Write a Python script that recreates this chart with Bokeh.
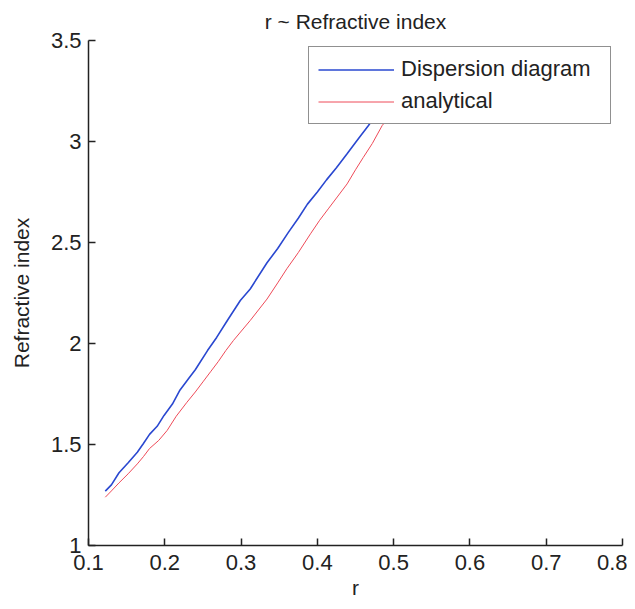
from bokeh.plotting import figure
from bokeh.models import Range1d, FixedTicker, Legend, LegendItem
from bokeh.embed import file_html
from bokeh.resources import INLINE

# Data
r_disp = [0.122, 0.130, 0.140, 0.152, 0.164, 0.172, 0.180, 0.190, 0.199, 0.210,
          0.220, 0.232, 0.240, 0.256, 0.268, 0.282, 0.299, 0.312, 0.334, 0.348,
          0.362, 0.375, 0.387, 0.400, 0.412, 0.425, 0.439, 0.452, 0.467, 0.480,
          0.495, 0.510]
n_disp = [1.269, 1.300, 1.360, 1.410, 1.462, 1.505, 1.550, 1.590, 1.644, 1.700,
          1.770, 1.830, 1.870, 1.965, 2.030, 2.114, 2.213, 2.270, 2.400, 2.470,
          2.550, 2.620, 2.690, 2.750, 2.810, 2.870, 2.939, 3.005, 3.079, 3.150,
          3.220, 3.300]

r_anal = [0.122, 0.130, 0.140, 0.152, 0.164, 0.172, 0.180, 0.192, 0.203, 0.215,
          0.229, 0.240, 0.250, 0.260, 0.270, 0.280, 0.290, 0.312, 0.334, 0.348,
          0.360, 0.375, 0.391, 0.403, 0.415, 0.427, 0.439, 0.450, 0.460, 0.472,
          0.485, 0.498, 0.510]
n_anal = [1.239, 1.270, 1.310, 1.355, 1.404, 1.440, 1.480, 1.520, 1.569, 1.640,
          1.709, 1.760, 1.810, 1.860, 1.910, 1.965, 2.015, 2.114, 2.220, 2.300,
          2.370, 2.450, 2.543, 2.610, 2.670, 2.730, 2.790, 2.860, 2.920, 2.990,
          3.079, 3.140, 3.200]

x_ticks = [0.1, 0.2, 0.3, 0.4, 0.5, 0.6, 0.7, 0.8]
y_ticks = [1, 1.5, 2, 2.5, 3, 3.5]
y_tick_labels = ["1", "1.5", "2", "2.5", "3", "3.5"]

FONT = "Liberation Sans"
TXT = "#222222"

p = figure(width=627, height=601, output_backend="svg", toolbar_location=None,
           x_range=Range1d(0.1, 0.8), y_range=Range1d(1, 3.5),
           title="r ~ Refractive index",
           min_border_left=88, min_border_right=5,
           min_border_top=40, min_border_bottom=56)

p.title.align = "center"
p.title.text_font = FONT
p.title.text_font_size = "21px"
p.title.text_font_style = "normal"
p.title.text_color = TXT
p.title.standoff = 15

p.outline_line_color = None
p.background_fill_color = "white"
p.border_fill_color = "white"
p.xgrid.visible = False
p.ygrid.visible = False

for ax in (p.xaxis[0], p.yaxis[0]):
    ax.axis_line_color = "#222222"
    ax.axis_line_width = 1.5
    ax.major_tick_line_color = "#222222"
    ax.major_tick_line_width = 1.5
    ax.major_tick_in = 7
    ax.major_tick_out = 0
    ax.minor_tick_line_color = None
    ax.major_label_text_font = FONT
    ax.major_label_text_font_size = "22px"
    ax.major_label_text_color = TXT
    ax.axis_label_text_font = FONT
    ax.axis_label_text_font_size = "21px"
    ax.axis_label_text_font_style = "normal"
    ax.axis_label_text_color = TXT

p.xaxis.ticker = FixedTicker(ticks=x_ticks)
p.yaxis.ticker = FixedTicker(ticks=y_ticks)
p.yaxis.major_label_overrides = {v: s for v, s in zip(y_ticks, y_tick_labels)}
p.xaxis.axis_label = "r"
p.yaxis.axis_label = "Refractive index"
p.xaxis.major_label_standoff = 9
p.xaxis.axis_label_standoff = 3
p.yaxis.major_label_standoff = 7
p.yaxis.axis_label_standoff = 15

l1 = p.line(r_disp, n_disp, line_color="#2a48d0", line_width=1.6)
l2 = p.line(r_anal, n_anal, line_color="#ee4a58", line_width=1.0)

legend = Legend(items=[LegendItem(label="Dispersion diagram", renderers=[l1]),
                       LegendItem(label="analytical", renderers=[l2])],
                location=(220, 421))
legend.padding = 9
legend.spacing = 6
legend.margin = 0
legend.glyph_width = 76
legend.glyph_height = 25
legend.label_standoff = 7
legend.label_width = 200
legend.label_text_font = FONT
legend.label_text_font_size = "22px"
legend.label_text_color = TXT
legend.border_line_color = "#222222"
legend.border_line_width = 1.5
legend.background_fill_color = "white"
legend.background_fill_alpha = 1.0
p.add_layout(legend, "center")

open("out.html", "w").write(file_html(p, INLINE))
